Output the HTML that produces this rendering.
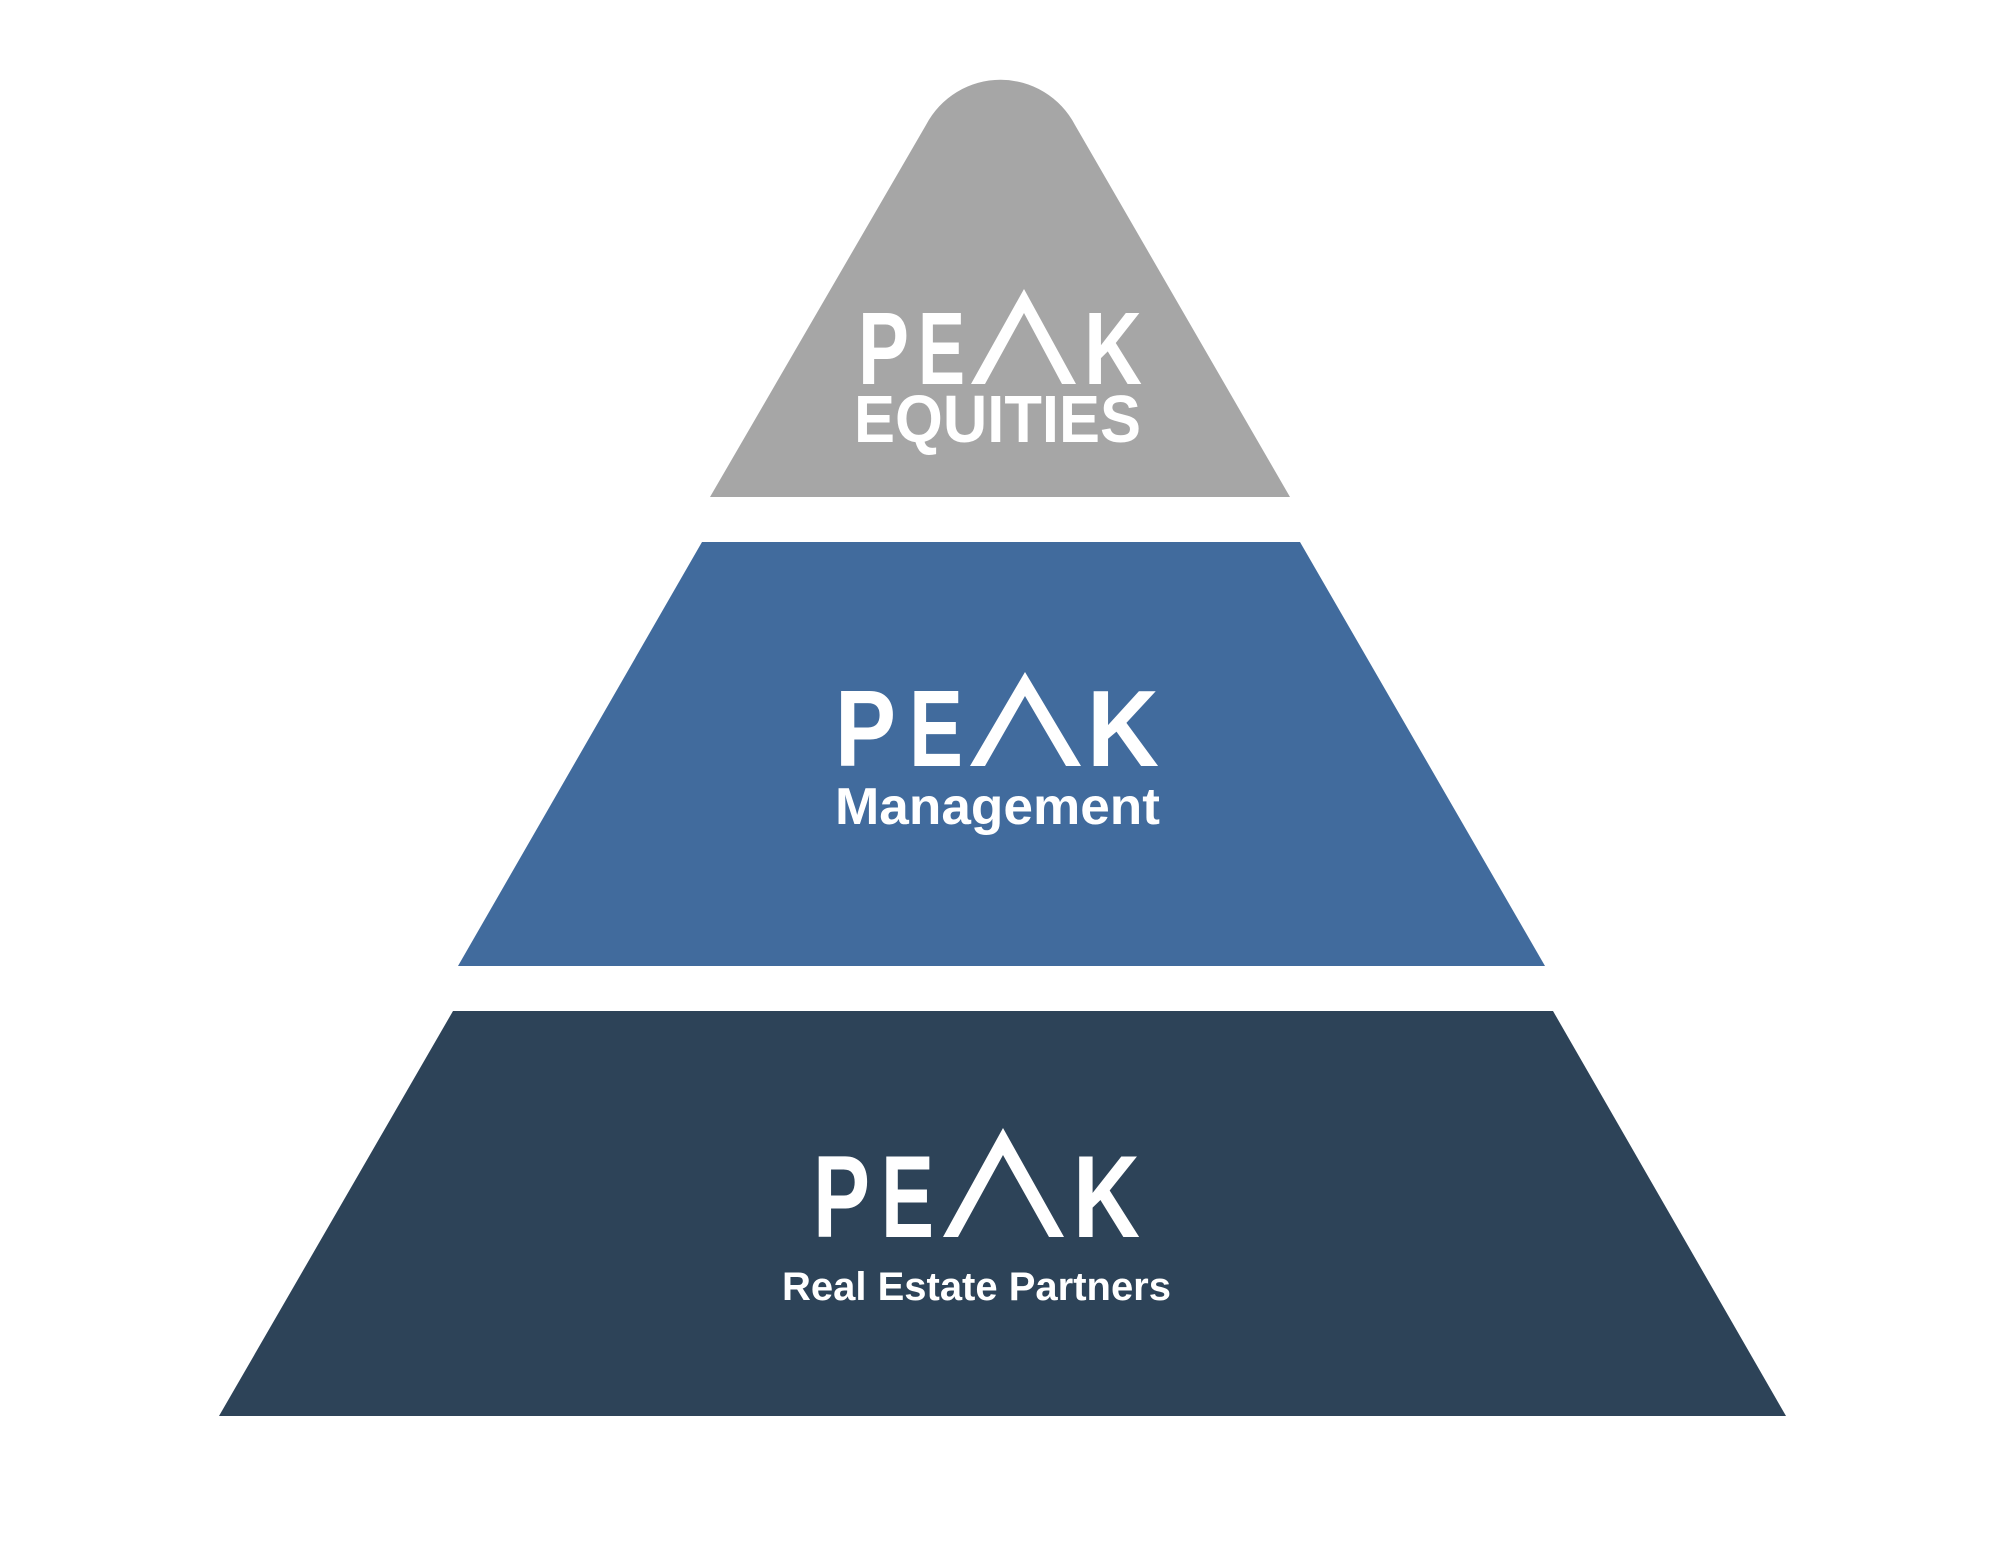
<!DOCTYPE html>
<html><head><meta charset="utf-8"><style>
html,body{margin:0;padding:0;background:#fff;}
svg{display:block;}
text{font-family:"Liberation Sans",sans-serif;fill:#fff;}
</style></head><body>
<svg width="1999" height="1545" viewBox="0 0 1999 1545" xmlns="http://www.w3.org/2000/svg">
<path d="M710,497 L926,125 A84,84 0 0 1 1075,125 L1290,497 Z" fill="#a6a6a6"/>
<polygon points="702,542 1300,542 1545,966 458,966" fill="#416b9d"/>
<polygon points="453,1011 1553,1011 1786,1416 219,1416" fill="#2d4358"/>

<!-- top logo -->
<g font-weight="bold">
<text x="858" y="384" font-size="103" textLength="51" lengthAdjust="spacingAndGlyphs">P</text>
<text x="918" y="384" font-size="103" textLength="47" lengthAdjust="spacingAndGlyphs">E</text>
<polygon points="971,384 1024,289 1076,384 1062,384 1024,313 985,384" fill="#fff"/>
<text x="1084" y="384" font-size="103" textLength="58" lengthAdjust="spacingAndGlyphs">K</text>
<text x="854" y="442" font-size="67" textLength="287" lengthAdjust="spacingAndGlyphs">EQUITIES</text>
</g>

<!-- middle logo -->
<g font-weight="bold">
<text x="835" y="766" font-size="109" textLength="61" lengthAdjust="spacingAndGlyphs">P</text>
<text x="909" y="766" font-size="109" textLength="54" lengthAdjust="spacingAndGlyphs">E</text>
<polygon points="970,766 1025,672 1081,766 1066,766 1025,696 985,766" fill="#fff"/>
<text x="1087" y="766" font-size="109" textLength="72" lengthAdjust="spacingAndGlyphs">K</text>
<text x="835" y="824" font-size="52" textLength="325" lengthAdjust="spacingAndGlyphs">Management</text>
</g>

<!-- bottom logo -->
<g font-weight="bold">
<text x="813" y="1237" font-size="117" textLength="57" lengthAdjust="spacingAndGlyphs">P</text>
<text x="881" y="1237" font-size="117" textLength="53" lengthAdjust="spacingAndGlyphs">E</text>
<polygon points="943,1237 1003,1128 1064,1237 1049,1237 1003,1155 958,1237" fill="#fff"/>
<text x="1073" y="1237" font-size="117" textLength="67" lengthAdjust="spacingAndGlyphs">K</text>
<text x="782" y="1300" font-size="40" textLength="389" lengthAdjust="spacingAndGlyphs">Real Estate Partners</text>
</g>
</svg>
</body></html>
